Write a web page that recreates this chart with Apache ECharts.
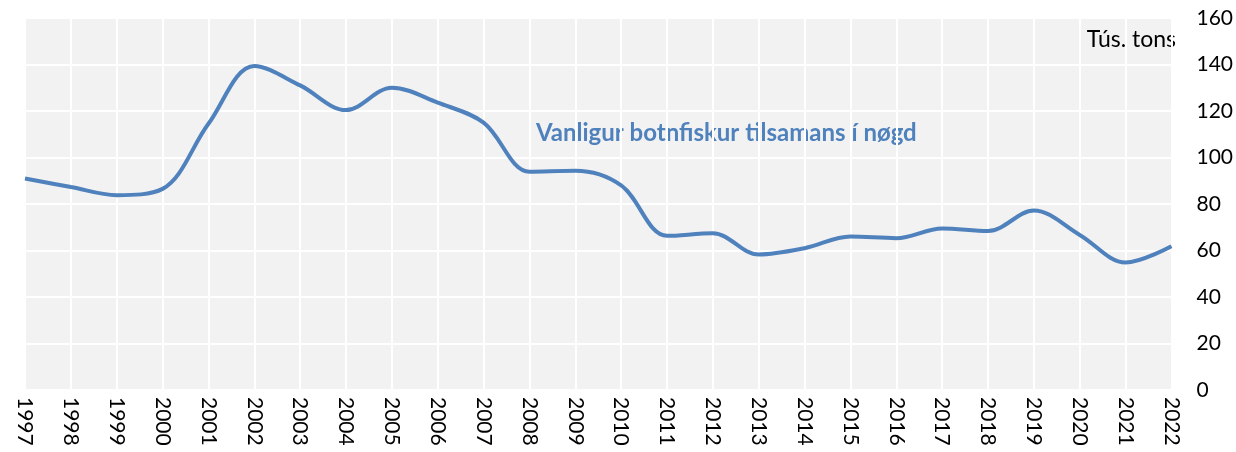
<!DOCTYPE html>
<html>
<head>
<meta charset="utf-8">
<script src="https://cdn.jsdelivr.net/npm/echarts@6/dist/echarts.min.js"></script>
<style>
  html, body { margin: 0; padding: 0; background: #fff; }
  #chart { width: 1236px; height: 452px; }
</style>
</head>
<body>
<div id="chart"></div>
<script>
const years = ['1997', '1998', '1999', '2000', '2001', '2002', '2003', '2004', '2005', '2006',
  '2007', '2008', '2009', '2010', '2011', '2012', '2013', '2014', '2015', '2016',
  '2017', '2018', '2019', '2020', '2021', '2022'];
const catch_total = [91, 87.3, 83.8, 86.5, 114.5, 139.4, 131, 120.4, 130, 123.6,
  115, 93.9, 94.3, 88, 66.3, 67.4, 58.3, 61, 66, 65.3,
  69.5, 68.4, 77.2, 66.7, 54.8, 61.8];
const seriesName = 'Vanligur botnfiskur tilsamans í nøgd';
const unitLabel = 'Tús. tons';

const font = 'Lato, "Noto Sans", sans-serif';
const chart = echarts.init(document.getElementById('chart'));

chart.setOption({
  animation: false,
  grid: {
    left: 25, right: 64, top: 18, bottom: 62,
    show: true, backgroundColor: '#F2F2F2', borderWidth: 0
  },
  xAxis: {
    type: 'category',
    data: years,
    boundaryGap: false,
    axisLine: { show: false },
    axisTick: { show: false },
    axisLabel: {
      interval: 0, rotate: -90, margin: 7,
      color: '#000', fontSize: 21, fontFamily: font
    },
    splitLine: { show: true, lineStyle: { color: '#fff', width: 2 } }
  },
  yAxis: {
    type: 'value',
    position: 'right',
    min: 0, max: 160, interval: 20,
    axisLine: { show: false },
    axisTick: { show: false },
    axisLabel: { margin: 25, color: '#000', fontSize: 21, fontFamily: font },
    splitLine: { show: true, lineStyle: { color: '#fff', width: 2 } }
  },
  graphic: [
    {
      type: 'text', right: 60, top: 28,
      style: { text: unitLabel, fill: '#000', font: '23px ' + font }
    },
    {
      type: 'text', left: 536, top: 121,
      style: { text: seriesName, fill: '#4F81BD', font: 'bold 24px ' + font }
    }
  ],
  series: [{
    name: seriesName,
    type: 'line',
    data: catch_total,
    smooth: 0.35,
    symbol: 'none',
    lineStyle: { color: '#4F81BD', width: 4 }
  }]
});
</script>
</body>
</html>
